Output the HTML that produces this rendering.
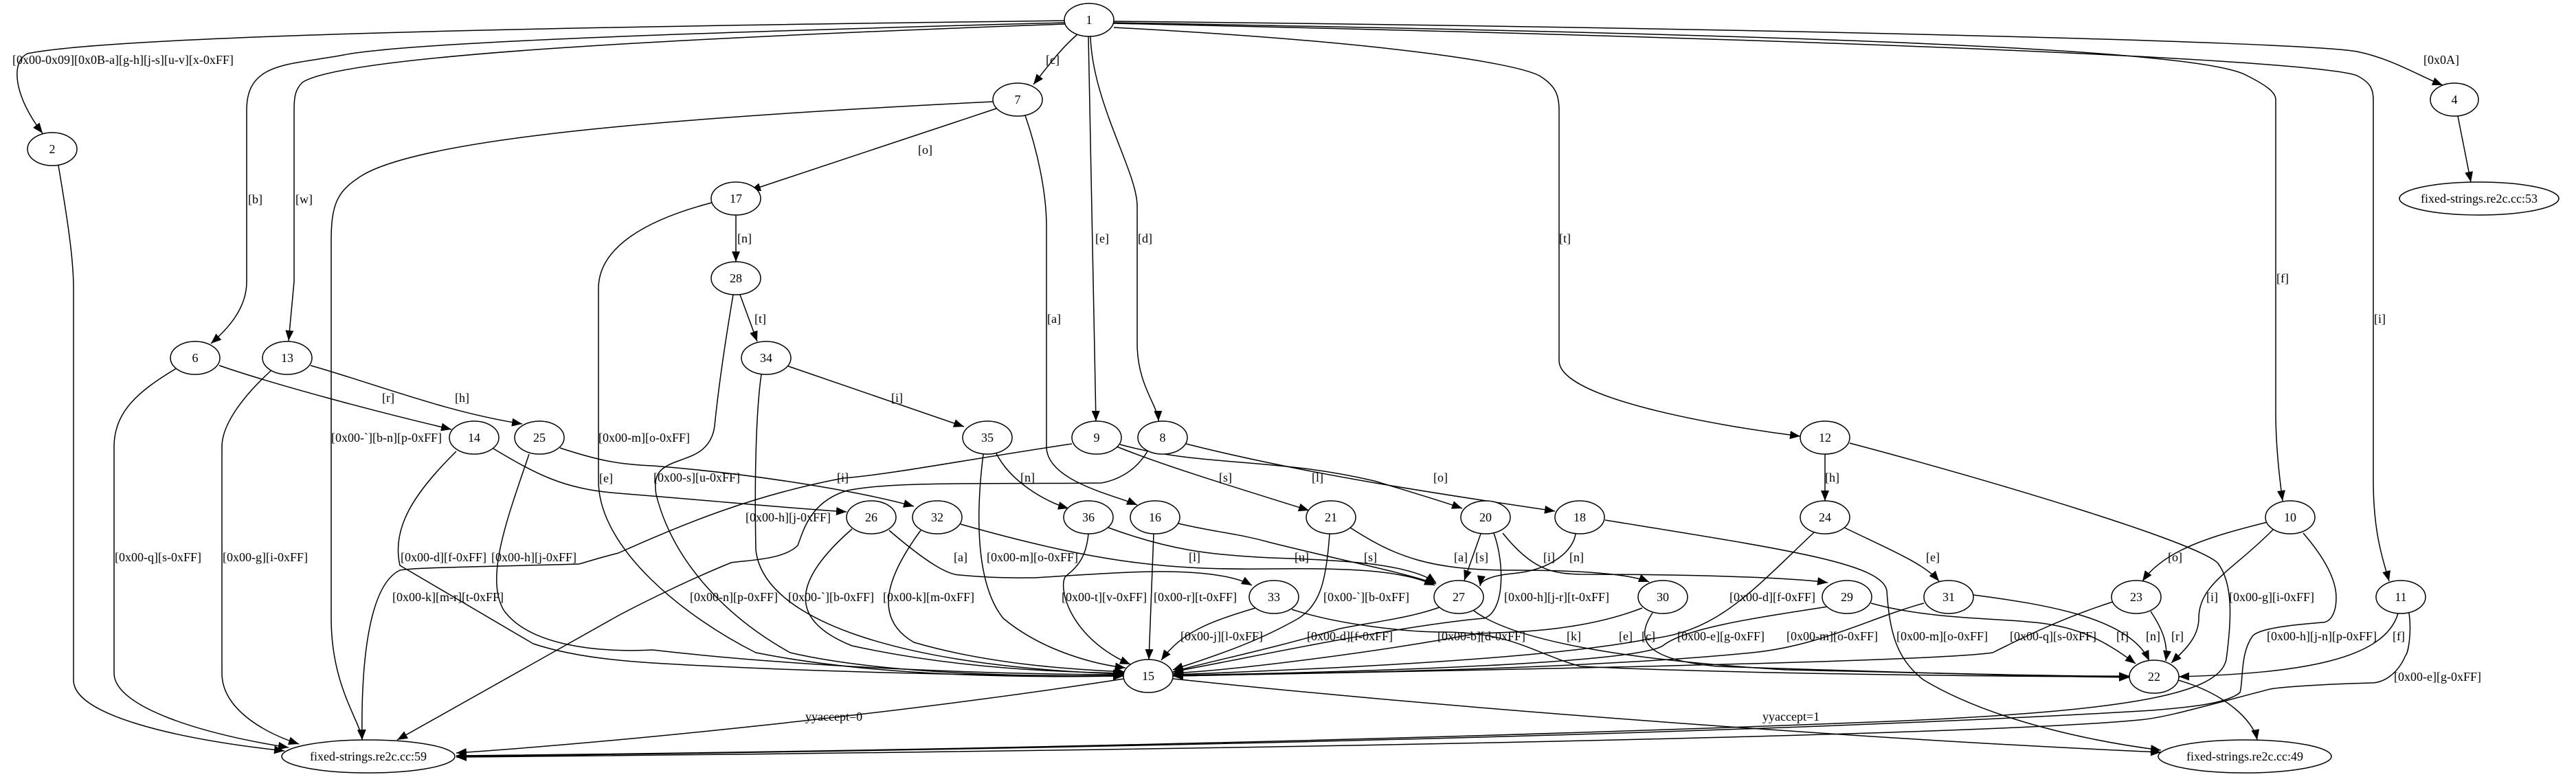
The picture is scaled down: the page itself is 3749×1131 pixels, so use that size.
<!DOCTYPE html>
<html><head><meta charset="utf-8"><style>
html,body{margin:0;padding:0;background:#fff;}
svg{display:block;}
text{font-family:"Liberation Serif",serif;font-size:18px;fill:#000;}
.e{fill:none;stroke:#000;stroke-width:1.5;}
.n{fill:#fff;stroke:#000;stroke-width:1.5;}
</style></head><body>
<svg width="3749" height="1131" viewBox="0 0 3749 1131" xmlns="http://www.w3.org/2000/svg">
<defs>
<marker id="a" markerUnits="userSpaceOnUse" markerWidth="16" markerHeight="12" refX="15" refY="6" orient="auto">
<path d="M0,0 L15,6 L0,12 z" fill="#000"/></marker>
</defs>
<g class="e" marker-end="url(#a)">
<!-- from 1 -->
<path d="M1549,30 C1200,35 200,45 40,78 C15,90 20,140 62,194"/>
<path d="M1550,33 C1100,45 600,60 500,80 C420,95 359,90 359,160 L359,410 C359,450 330,480 307,500"/>
<path d="M1550,35 C1000,55 500,80 440,120 C430,130 428,140 428,160 L428,410 L420,496"/>
<path d="M1621,31 C2500,40 3350,60 3430,75 C3480,85 3520,110 3555,124"/>
<path d="M1621,33 C2600,50 3200,70 3270,110 C3300,125 3312,135 3312,145 L3312,600 C3312,650 3318,700 3322,729"/>
<path d="M1621,34 C2800,60 3380,90 3430,110 C3450,120 3454,130 3454,145 L3454,700 C3454,780 3470,820 3477,846"/>
<path d="M1621,40 C2000,60 2200,90 2240,110 C2265,125 2269,140 2269,160 L2269,525 C2269,580 2500,620 2620,635"/>
<path d="M1568,50 C1545,70 1530,90 1504,123"/>
<path d="M1584,53 L1595,613"/>
<path d="M1587,53 C1590,150 1655,250 1655,300 L1655,500 C1655,560 1685,590 1686,613"/>
<!-- 7 -->
<path d="M1450,158 L1092,277"/>
<path d="M1445,148 C1000,170 600,200 520,260 C490,280 482,300 482,350 L482,900 C482,1000 525,1050 527,1077"/>
<path d="M1492,168 C1510,220 1523,280 1523,330 L1523,650 C1523,700 1620,720 1655,735"/>
<!-- 17, 28, 34 -->
<path d="M1071,313 L1071,381"/>
<path d="M1036,295 C940,320 871,360 871,420 L871,700 C871,800 1000,900 1100,950 C1300,990 1550,985 1635,984"/>
<path d="M1077,429 L1102,497"/>
<path d="M1067,429 C1055,500 1045,570 1040,620 C1035,660 1000,665 990,670 C960,680 950,690 955,720 C980,820 1060,900 1150,950 C1300,985 1550,985 1635,983"/>
<path d="M1147,533 L1403,621"/>
<path d="M1108,545 C1100,600 1098,700 1100,800 C1110,900 1300,970 1635,981"/>
<!-- 6, 13, 2 -->
<path d="M319,532 C400,560 550,600 657,625"/>
<path d="M452,532 C550,560 650,600 760,617"/>
<path d="M257,536 C200,570 166,600 166,650 L166,980 C166,1030 300,1070 420,1088"/>
<path d="M395,539 C350,580 323,620 323,650 L323,980 C323,1030 380,1065 435,1083"/>
<path d="M85,241 C100,330 107,380 107,420 L107,990 C107,1040 250,1075 414,1093"/>
<!-- 14, 25 -->
<path d="M718,653 C780,690 820,712 900,718 C1050,730 1150,740 1232,745"/>
<path d="M664,657 C600,720 570,770 582,823 L776,937 C830,955 900,962 950,965 C1200,980 1500,984 1635,984"/>
<path d="M770,661 C740,750 705,840 733,888 C770,940 870,950 950,946 C1200,975 1500,982 1635,982"/>
<path d="M815,652 C870,670 900,676 950,678 C1100,690 1250,715 1330,737"/>
<!-- 9, 8 to 59 -->
<path d="M1560,646 C1400,670 1300,690 1227,696 C1100,720 1000,760 900,805 C860,815 845,821 842,821 C700,825 600,826 582,830 C540,850 525,950 527,1077"/>
<path d="M1670,657 C1650,690 1620,700 1603,703 C1450,705 1300,700 1233,714 C1180,730 1170,770 1161,794 C1140,815 1090,815 1064,819 C1000,845 930,880 900,896 L578,1077"/>
<!-- 35, 26, 32, 36, 16 -->
<path d="M1450,660 C1470,700 1520,730 1555,740"/>
<path d="M1431,661 C1420,750 1420,850 1460,900 C1520,950 1600,968 1638,972"/>
<path d="M1294,772 C1350,820 1380,837 1397,837 C1450,842 1480,841 1506,841 C1600,835 1650,832 1688,832 C1760,832 1800,840 1822,852"/>
<path d="M1240,770 C1160,840 1140,900 1240,940 C1400,975 1550,978 1637,980"/>
<path d="M1340,772 C1290,840 1270,900 1330,935 C1450,970 1580,975 1637,978"/>
<path d="M1398,763 C1600,820 1700,830 1850,828 C2000,826 2050,835 2088,852"/>
<path d="M1584,777 C1580,820 1560,830 1550,840 C1540,860 1560,930 1645,967"/>
<path d="M1613,768 C1700,800 1760,808 1850,812 C1950,815 2050,820 2090,848"/>
<path d="M1679,777 L1672,960"/>
<path d="M1715,762 C1770,775 1800,776 1850,790 C1950,815 2050,835 2090,850"/>
<!-- 9, 8 -->
<path d="M1625,650 C1700,680 1800,710 1905,743"/>
<path d="M1630,647 C1750,680 1850,665 2000,700 C2050,715 2100,730 2128,740"/>
<path d="M1726,646 C1900,690 2100,720 2263,744"/>
<!-- 33, 21, 20, 18 -->
<path d="M1827,885 C1760,905 1720,920 1690,961"/>
<path d="M1880,887 C1950,910 2050,920 2100,920 C2200,920 2230,950 2300,970 C2500,980 2900,985 3099,985"/>
<path d="M1935,777 C1930,850 1920,880 1890,900 C1820,940 1750,960 1707,975"/>
<path d="M1965,768 C2030,810 2080,830 2200,830 C2300,830 2370,835 2400,847"/>
<path d="M2155,777 L2131,845"/>
<path d="M2174,776 C2190,820 2190,890 2160,900 C2100,905 2000,920 1800,960 L1707,978"/>
<path d="M2187,776 C2230,830 2260,835 2300,836 C2450,836 2600,840 2660,848"/>
<path d="M2293,777 C2290,800 2260,830 2200,835 C2170,838 2155,845 2154,853"/>
<path d="M2336,757 C2600,800 2740,820 2746,860 C2750,920 2760,960 2800,990 C2900,1050 3050,1080 3145,1092"/>
<!-- 12, 24 -->
<path d="M2656,661 L2656,729"/>
<path d="M2692,645 C2900,700 3200,790 3228,820 C3250,850 3248,900 3240,960 C3230,1010 3100,1035 2750,1050 C2000,1080 1200,1095 664,1100"/>
<path d="M2680,766 C2750,800 2800,820 2822,846"/>
<path d="M2640,775 C2550,860 2500,920 2400,930 C2250,960 1900,975 1707,982"/>
<!-- 10, 11 -->
<path d="M3352,776 C3390,820 3400,850 3400,870 C3400,895 3390,906 3380,906 C3330,910 3290,915 3279,925 C3260,950 3265,990 3260,1008 C3240,1025 3180,1030 3132,1034 C2750,1057 2000,1085 664,1101"/>
<path d="M3506,892 C3510,920 3505,950 3501,954 C3490,980 3470,994 3451,994 C3380,996 3320,1000 3304,1003 C3200,1030 3150,1045 3113,1048 C2900,1068 2000,1090 664,1102"/>
<path d="M3300,760 C3220,780 3150,800 3118,846"/>
<path d="M3308,771 C3250,830 3200,850 3200,900 C3200,930 3175,950 3160,965"/>
<path d="M3490,893 C3470,960 3350,980 3171,985"/>
<!-- 23, 31, 29, 30, 27 -->
<path d="M3075,876 C3000,900 2940,930 2900,950 C2800,965 2000,978 1707,984"/>
<path d="M3130,890 C3150,920 3155,940 3152,962"/>
<path d="M2800,878 C2720,900 2650,940 2550,950 C2300,975 1900,980 1707,984"/>
<path d="M2872,866 C2980,880 3100,900 3128,962"/>
<path d="M2660,883 C2550,900 2450,915 2420,940 C2380,965 2000,978 1707,983"/>
<path d="M2723,878 C2800,900 2900,900 2950,905 C3020,910 3060,930 3108,966"/>
<path d="M2390,885 C2300,920 2200,920 2150,922 C2000,950 1800,975 1707,980"/>
<path d="M2405,892 C2380,930 2390,960 2500,970 C2800,980 3000,985 3099,986"/>
<path d="M2145,889 C2200,930 2350,960 2600,975 C2900,982 3050,985 3099,984"/>
<path d="M2095,884 C2050,900 2000,905 1950,915 C1850,945 1750,965 1707,978"/>
<!-- 22, 15, 4 -->
<path d="M3170,990 C3240,1010 3280,1050 3285,1077"/>
<path d="M1636,988 C1300,1040 900,1080 664,1096"/>
<path d="M1707,988 C2200,1040 2800,1080 3145,1095"/>
<path d="M3577,169 L3596,265"/>
</g>
<!-- nodes -->
<g class="n">
<ellipse cx="1585" cy="29" rx="36" ry="24"/>
<ellipse cx="76" cy="217" rx="36" ry="24"/>
<ellipse cx="3572" cy="145" rx="35" ry="24"/>
<ellipse cx="284" cy="521" rx="36" ry="24"/>
<ellipse cx="418" cy="521" rx="36" ry="24"/>
<ellipse cx="1481" cy="145" rx="36" ry="24"/>
<ellipse cx="1071" cy="289" rx="36" ry="24"/>
<ellipse cx="1071" cy="405" rx="36" ry="24"/>
<ellipse cx="1115" cy="521" rx="36" ry="24"/>
<ellipse cx="690" cy="637" rx="36" ry="24"/>
<ellipse cx="785" cy="637" rx="36" ry="24"/>
<ellipse cx="1437" cy="637" rx="36" ry="24"/>
<ellipse cx="1596" cy="637" rx="36" ry="24"/>
<ellipse cx="1692" cy="637" rx="36" ry="24"/>
<ellipse cx="2656" cy="637" rx="36" ry="24"/>
<ellipse cx="1268" cy="753" rx="36" ry="24"/>
<ellipse cx="1364" cy="753" rx="36" ry="24"/>
<ellipse cx="1584" cy="753" rx="36" ry="24"/>
<ellipse cx="1681" cy="753" rx="36" ry="24"/>
<ellipse cx="1937" cy="753" rx="36" ry="24"/>
<ellipse cx="2162" cy="753" rx="36" ry="24"/>
<ellipse cx="2299" cy="753" rx="36" ry="24"/>
<ellipse cx="2656" cy="753" rx="36" ry="24"/>
<ellipse cx="3333" cy="753" rx="36" ry="24"/>
<ellipse cx="1854" cy="869" rx="36" ry="24"/>
<ellipse cx="2123" cy="869" rx="36" ry="24"/>
<ellipse cx="2420" cy="869" rx="36" ry="24"/>
<ellipse cx="2688" cy="869" rx="36" ry="24"/>
<ellipse cx="2836" cy="869" rx="36" ry="24"/>
<ellipse cx="3109" cy="869" rx="36" ry="24"/>
<ellipse cx="3494" cy="869" rx="36" ry="24"/>
<ellipse cx="1671" cy="984" rx="36" ry="24"/>
<ellipse cx="3135" cy="985" rx="36" ry="24"/>
<ellipse cx="536" cy="1101" rx="126" ry="24"/>
<ellipse cx="3267" cy="1101" rx="126" ry="24"/>
<ellipse cx="3608" cy="289" rx="116" ry="24"/>
</g>
<g text-anchor="middle">
<text x="1585" y="35">1</text><text x="76" y="223">2</text><text x="3572" y="151">4</text>
<text x="284" y="527">6</text><text x="418" y="527">13</text><text x="1481" y="151">7</text>
<text x="1071" y="295">17</text><text x="1071" y="411">28</text><text x="1115" y="527">34</text>
<text x="690" y="643">14</text><text x="785" y="643">25</text><text x="1437" y="643">35</text>
<text x="1596" y="643">9</text><text x="1692" y="643">8</text><text x="2656" y="643">12</text>
<text x="1268" y="759">26</text><text x="1364" y="759">32</text><text x="1584" y="759">36</text>
<text x="1681" y="759">16</text><text x="1937" y="759">21</text><text x="2162" y="759">20</text>
<text x="2299" y="759">18</text><text x="2656" y="759">24</text><text x="3333" y="759">10</text>
<text x="1854" y="875">33</text><text x="2123" y="875">27</text><text x="2420" y="875">30</text>
<text x="2688" y="875">29</text><text x="2836" y="875">31</text><text x="3109" y="875">23</text>
<text x="3494" y="875">11</text><text x="1671" y="990">15</text><text x="3135" y="991">22</text>
<text x="536" y="1107">fixed-strings.re2c.cc:59</text>
<text x="3267" y="1107">fixed-strings.re2c.cc:49</text>
<text x="3608" y="295">fixed-strings.re2c.cc:53</text>
</g>
<!-- edge labels -->
<g>
<text x="18" y="93">[0x00-0x09][0x0B-a][g-h][j-s][u-v][x-0xFF]</text>
<text x="361" y="296">[b]</text><text x="430" y="296">[w]</text>
<text x="1522" y="93">[c]</text><text x="3527" y="93">[0x0A]</text>
<text x="1336" y="224">[o]</text>
<text x="1594" y="353">[e]</text><text x="1656" y="353">[d]</text>
<text x="2269" y="353">[t]</text><text x="3313" y="411">[f]</text><text x="3455" y="470">[i]</text>
<text x="1073" y="353">[n]</text><text x="1098" y="470">[t]</text><text x="1524" y="470">[a]</text>
<text x="556" y="585">[r]</text><text x="662" y="585">[h]</text><text x="1297" y="585">[i]</text>
<text x="482" y="643">[0x00-`][b-n][p-0xFF]</text>
<text x="871" y="643">[0x00-m][o-0xFF]</text>
<text x="872" y="702">[e]</text><text x="951" y="701">[0x00-s][u-0xFF]</text>
<text x="1218" y="701">[i]</text><text x="1485" y="701">[n]</text><text x="1774" y="701">[s]</text>
<text x="1909" y="701">[l]</text><text x="2086" y="701">[o]</text><text x="2656" y="701">[h]</text>
<text x="1085" y="759">[0x00-h][j-0xFF]</text>
<text x="167" y="817">[0x00-q][s-0xFF]</text><text x="324" y="817">[0x00-g][i-0xFF]</text>
<text x="583" y="817">[0x00-d][f-0xFF]</text><text x="715" y="817">[0x00-h][j-0xFF]</text>
<text x="1388" y="817">[a]</text><text x="1436" y="817">[0x00-m][o-0xFF]</text>
<text x="1730" y="817">[l]</text><text x="1884" y="817">[u]</text><text x="1985" y="817">[s]</text>
<text x="2116" y="817">[a]</text><text x="2147" y="817">[s]</text><text x="2246" y="817">[i]</text>
<text x="2284" y="817">[n]</text><text x="2803" y="817">[e]</text><text x="3155" y="817">[o]</text>
<text x="571" y="875">[0x00-k][m-r][t-0xFF]</text>
<text x="1004" y="875">[0x00-n][p-0xFF]</text>
<text x="1147" y="875">[0x00-`][b-0xFF]</text>
<text x="1285" y="875">[0x00-k][m-0xFF]</text>
<text x="1545" y="875">[0x00-t][v-0xFF]</text>
<text x="1679" y="875">[0x00-r][t-0xFF]</text>
<text x="1926" y="875">[0x00-`][b-0xFF]</text>
<text x="2189" y="875">[0x00-h][j-r][t-0xFF]</text>
<text x="2517" y="875">[0x00-d][f-0xFF]</text>
<text x="3211" y="875">[i]</text><text x="3244" y="875">[0x00-g][i-0xFF]</text>
<text x="1718" y="932">[0x00-j][l-0xFF]</text>
<text x="1902" y="932">[0x00-d][f-0xFF]</text>
<text x="2092" y="932">[0x00-b][d-0xFF]</text>
<text x="2280" y="932">[k]</text><text x="2356" y="932">[e]</text><text x="2389" y="932">[c]</text>
<text x="2441" y="932">[0x00-e][g-0xFF]</text>
<text x="2600" y="932">[0x00-m][o-0xFF]</text>
<text x="2760" y="932">[0x00-m][o-0xFF]</text>
<text x="2925" y="932">[0x00-q][s-0xFF]</text>
<text x="3080" y="932">[f]</text><text x="3123" y="932">[n]</text><text x="3160" y="932">[r]</text>
<text x="3299" y="932">[0x00-h][j-n][p-0xFF]</text><text x="3482" y="932">[f]</text>
<text x="3484" y="991">[0x00-e][g-0xFF]</text>
<text x="1172" y="1049">yyaccept=0</text>
<text x="2565" y="1049">yyaccept=1</text>
</g>
</svg>
</body></html>
